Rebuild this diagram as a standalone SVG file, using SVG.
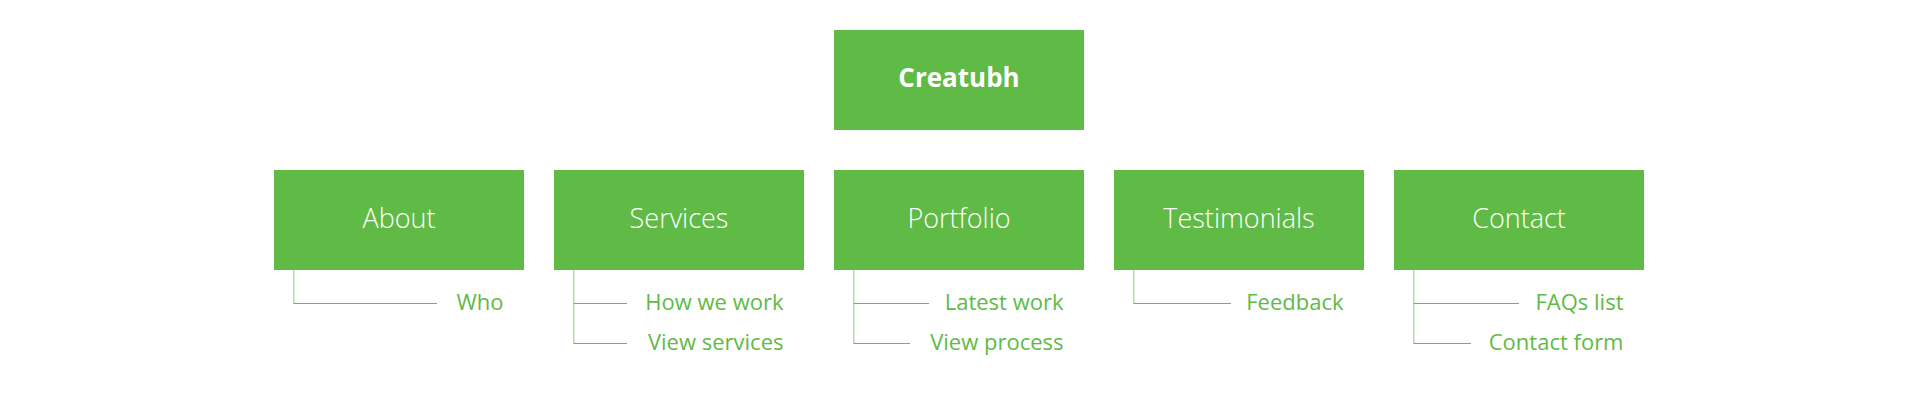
<svg xmlns="http://www.w3.org/2000/svg" width="1920" height="410" viewBox="0 0 1920 410">
<style>
.box{fill:#5fba46}
.root{font-family:"Open Sans","Liberation Sans",sans-serif;font-size:26px;font-weight:700;fill:#fff;text-anchor:middle}
.lbl{font-family:"Open Sans","Liberation Sans",sans-serif;font-size:27px;font-weight:300;fill:#fff;text-anchor:middle}
.sub{font-family:"Open Sans","Liberation Sans",sans-serif;font-size:22px;font-weight:400;fill:#5fba46;text-anchor:end}
.v{stroke:#a8da9a;stroke-width:1.3;fill:none}
.h{stroke:#66bd4e;stroke-width:1.2;fill:none}
</style>
<rect width="1920" height="410" fill="#fff"/>
<g id="connectors">
<path class="v" d="M293.8 270V303.5"/>
<path class="h" d="M293.5 303.5H437"/>
<path class="v" d="M573.8 270V343.5"/>
<path class="h" d="M573.5 303.5H627M573.5 343.5H627"/>
<path class="v" d="M853.8 270V343.5"/>
<path class="h" d="M853.5 303.5H929M853.5 343.5H910"/>
<path class="v" d="M1133.8 270V303.5"/>
<path class="h" d="M1133.5 303.5H1231"/>
<path class="v" d="M1413.8 270V343.5"/>
<path class="h" d="M1413.5 303.5H1519M1413.5 343.5H1471"/>
</g>
<g id="root"><rect class="box" x="834" y="30" width="250" height="100"/><text class="root" x="959" y="87">Creatubh</text></g>
<g id="about"><rect class="box" x="274" y="170" width="250" height="100"/><text class="lbl" x="399" y="228">About</text></g>
<g id="services"><rect class="box" x="554" y="170" width="250" height="100"/><text class="lbl" x="679" y="228">Services</text></g>
<g id="portfolio"><rect class="box" x="834" y="170" width="250" height="100"/><text class="lbl" x="959" y="228">Portfolio</text></g>
<g id="testimonials"><rect class="box" x="1114" y="170" width="250" height="100"/><text class="lbl" x="1239" y="228">Testimonials</text></g>
<g id="contact"><rect class="box" x="1394" y="170" width="250" height="100"/><text class="lbl" x="1519" y="228">Contact</text></g>
<g id="who"><text class="sub" x="503.5" y="310">Who</text></g>
<g id="how-we-work"><text class="sub" x="783.5" y="310">How we work</text></g>
<g id="view-services"><text class="sub" x="783.5" y="350">View services</text></g>
<g id="latest-work"><text class="sub" x="1063.5" y="310">Latest work</text></g>
<g id="view-process"><text class="sub" x="1063.5" y="350">View process</text></g>
<g id="feedback"><text class="sub" x="1343.5" y="310">Feedback</text></g>
<g id="faqs-list"><text class="sub" x="1623.5" y="310">FAQs list</text></g>
<g id="contact-form"><text class="sub" x="1623.5" y="350">Contact form</text></g>
</svg>
